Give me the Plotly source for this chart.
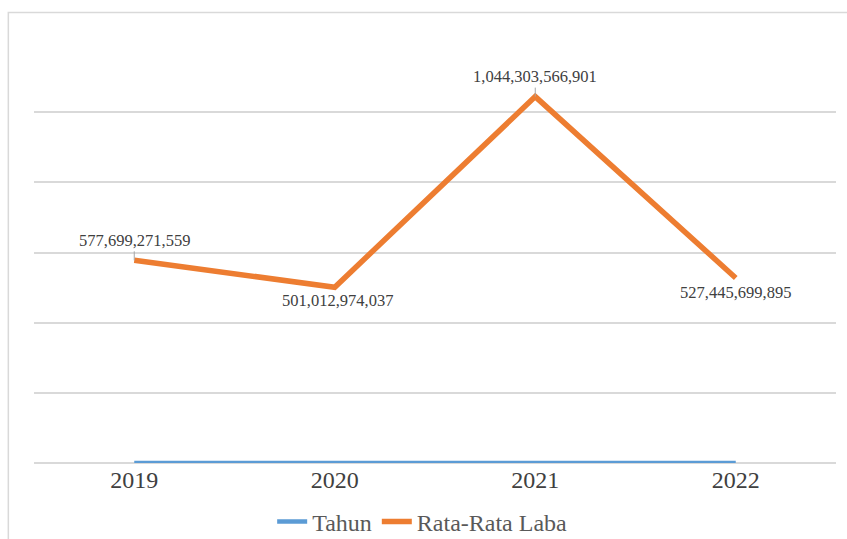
import plotly.graph_objects as go

# Data
years = ["2019", "2020", "2021", "2022"]
tahun = [2019, 2020, 2021, 2022]
rata_rata_laba = [577699271559, 501012974037, 1044303566901, 527445699895]

# label offsets (px) relative to each point: (dx, dy, leader)
label_offsets = [(1, -20, True), (3, 13, False), (2, -20, True), (0, 15, False)]

SERIF = "Liberation Serif"
BLUE = "#5B9BD5"
ORANGE = "#ED7D31"
GRID = "#D9D9D9"

fig = go.Figure()
fig.add_trace(go.Scatter(
    x=years, y=tahun, name="Tahun", mode="lines",
    line=dict(color=BLUE, width=4.5),
))
fig.add_trace(go.Scatter(
    x=years, y=rata_rata_laba, name="Rata-Rata Laba", mode="lines",
    line=dict(color=ORANGE, width=5.5),
))

annotations = []
for i, (v, (dx, dy, leader)) in enumerate(zip(rata_rata_laba, label_offsets)):
    txt = f"{v:,}"
    font = dict(family=SERIF, size=16.5, color="#404040")
    if leader:
        annotations.append(dict(
            x=i, y=v, xref="x", yref="y", text=txt,
            showarrow=True, arrowhead=0, arrowwidth=1, arrowcolor="#A6A6A6",
            ax=0, ay=dy, standoff=0, font=font,
        ))
    else:
        annotations.append(dict(
            x=i, y=v, xref="x", yref="y", text=txt, showarrow=False,
            xshift=dx, yshift=-dy, font=font,
        ))

fig.update_layout(
    width=847, height=539,
    margin=dict(l=34, r=11, t=42, b=76),
    paper_bgcolor="white", plot_bgcolor="white",
    showlegend=True,
    legend=dict(
        orientation="h", x=0.484, xanchor="center",
        yref="container", y=1 - 522 / 539, yanchor="middle",
        font=dict(family=SERIF, size=24, color="#595959"),
        bgcolor="rgba(0,0,0,0)",
    ),
    annotations=annotations,
    shapes=[dict(
        type="rect", xref="paper", yref="paper",
        x0=-0.032, x1=1.2, y0=-0.5, y1=1.070,
        line=dict(color=GRID, width=1.5), fillcolor="rgba(0,0,0,0)", layer="below",
    )],
)
fig.update_xaxes(
    type="category", range=[-0.5, 3.5], automargin=False,
    showgrid=False, showline=False, zeroline=False,
    ticks="", tickfont=dict(family=SERIF, size=24, color="#404040"),
)
fig.update_yaxes(
    range=[0, 1.2e12], dtick=2e11, showticklabels=False, automargin=False,
    showgrid=True, gridcolor=GRID, gridwidth=1.5,
    zeroline=True, zerolinecolor=GRID, zerolinewidth=1.5, showline=False,
)

fig.write_html("out.html")
